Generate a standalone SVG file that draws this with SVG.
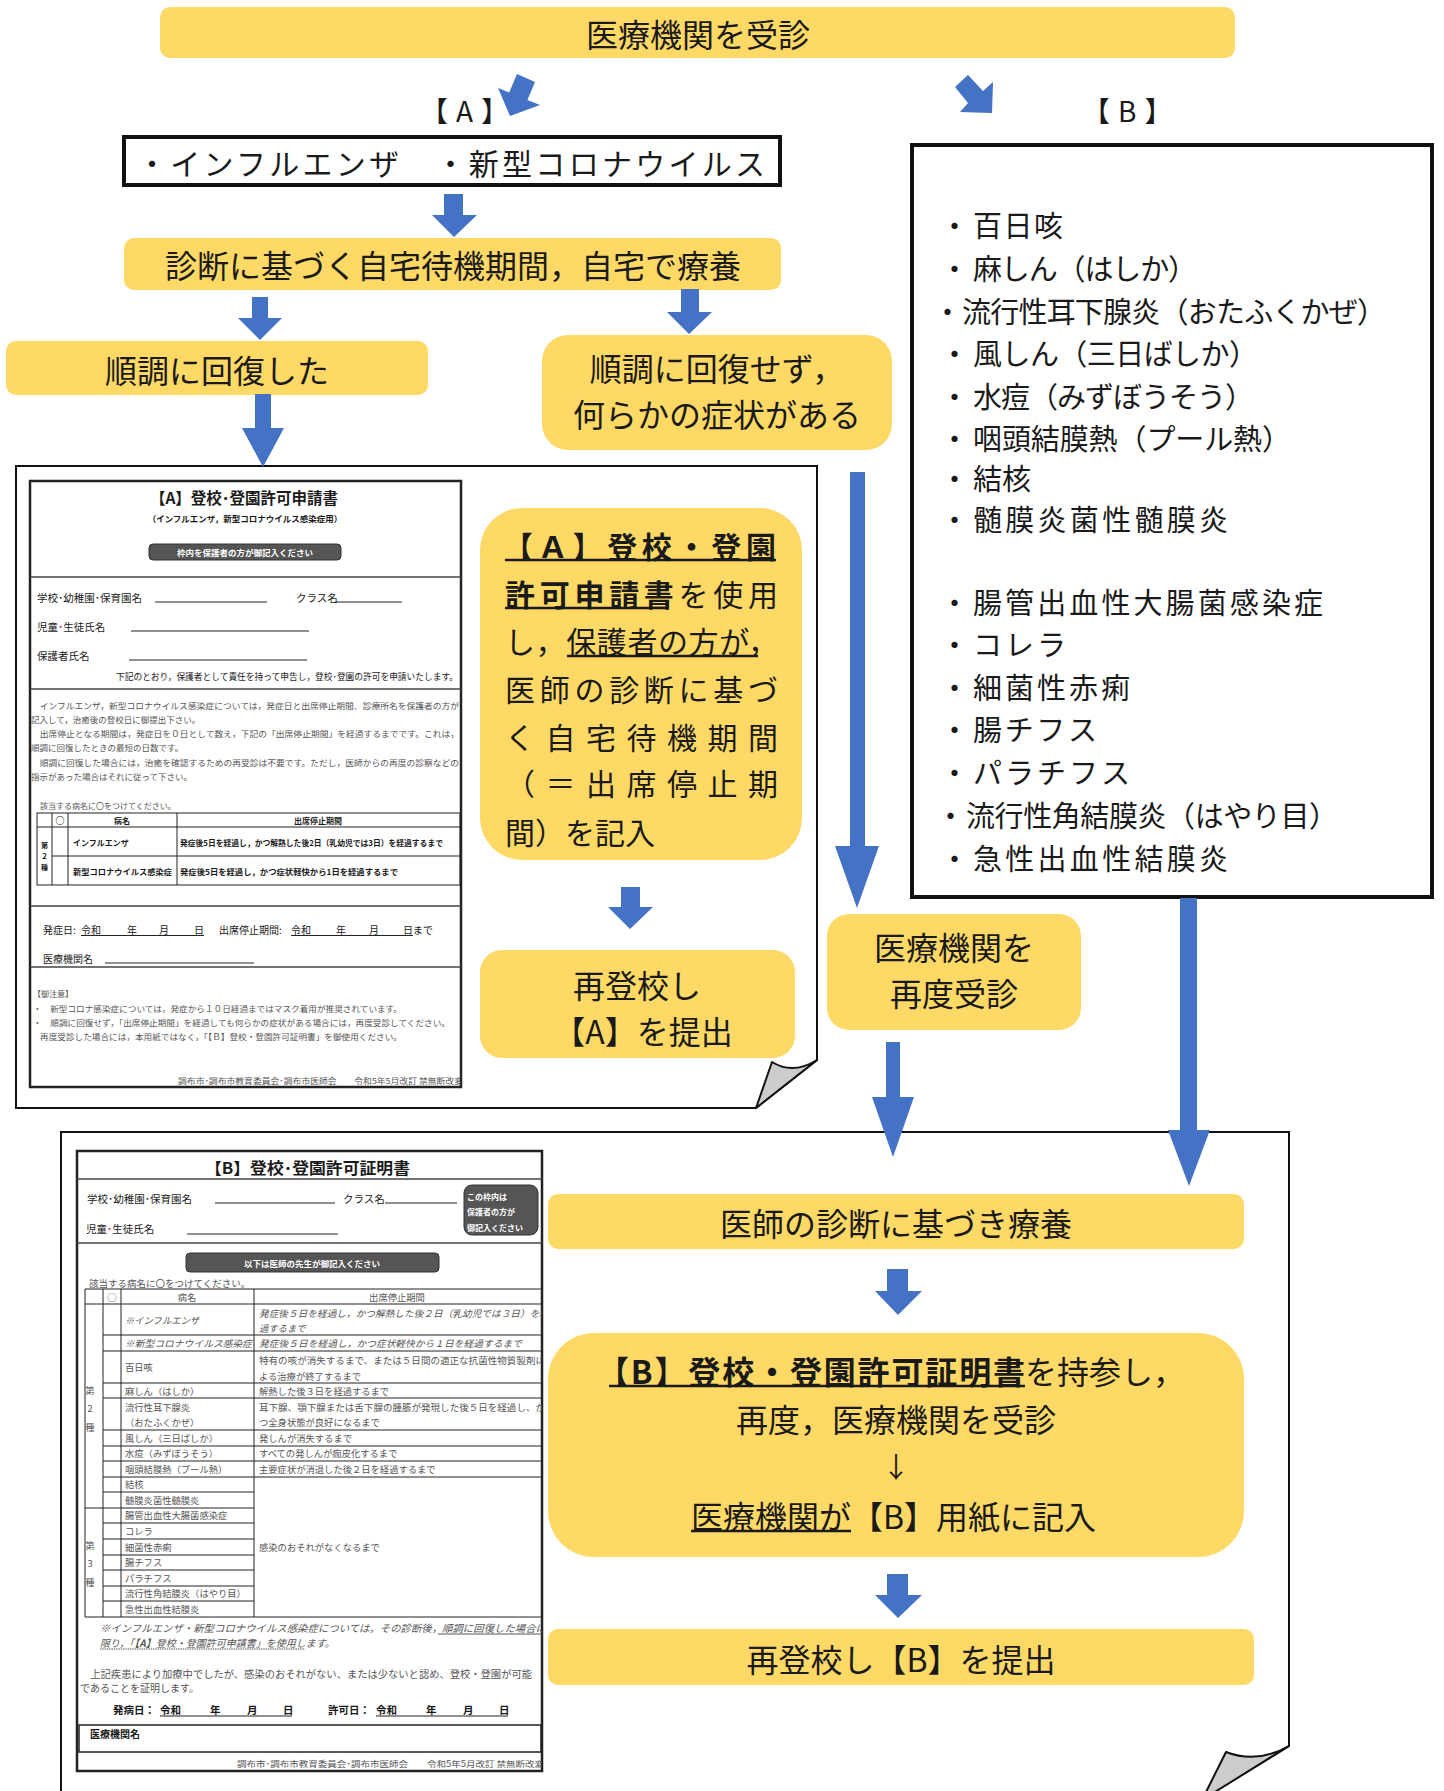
<svg xmlns="http://www.w3.org/2000/svg" width="1444" height="1791" viewBox="0 0 1444 1791">
<style>
text{font-family:"Noto Sans CJK JP","Noto Sans CJK SC",sans-serif;fill:#1a1a1a;dominant-baseline:central}
.y{fill:#FED966}
.ar{fill:#4472C4}
.m{text-anchor:middle}
.f32{font-size:32px}
.f30{font-size:30px}
.f29{font-size:29px}
.b{font-weight:bold}
.ul{stroke:#1a1a1a;stroke-width:2.5}
.fl{stroke:#222;stroke-width:1}
.g{fill:#555}
.tb{stroke:#222;stroke-width:1;fill:none}
.pill{fill:#555;stroke:#333;stroke-width:1}
.w{fill:#fff;font-weight:bold}
</style>
<defs>
<clipPath id="clipB"><rect x="77" y="1151" width="465" height="620"/></clipPath>
<clipPath id="clipA"><rect x="30" y="481" width="431" height="606"/></clipPath>
</defs>

<!-- pages -->
<g id="pageA">
<path d="M16,466 H817 V1060 L756,1108 H16 Z" fill="#fff" stroke="#111" stroke-width="2"/>
<path d="M817,1060 Q793,1075 772,1062 L756,1108 Z" fill="#ccc" stroke="#111" stroke-width="2" stroke-linejoin="round"/>
</g>
<g id="pageB">
<path d="M61,1800 V1132 H1289 V1746 L1200,1800" fill="#fff" stroke="#111" stroke-width="2"/>
<path d="M1289,1746 Q1257,1764 1226,1752 L1202,1800 Z" fill="#ccc" stroke="#111" stroke-width="2" stroke-linejoin="round"/>
</g>

<!-- form A -->
<g id="formA">
<rect x="30" y="481" width="431" height="606" fill="#fff" stroke="#222" stroke-width="2.5"/>
<g clip-path="url(#clipA)">
<text x="244" y="497" class="m b" style="font-size:15.5px">【A】登校･登園許可申請書</text>
<text x="245" y="518" class="m b" style="font-size:8.5px">（インフルエンザ，新型コロナウイルス感染症用）</text>
<rect x="149" y="544" width="192" height="16" rx="4" class="pill"/>
<text x="245" y="552" class="m w" style="font-size:8.5px">枠内を保護者の方が御記入ください</text>
<line x1="30" y1="577" x2="461" y2="577" stroke="#444" stroke-width="1.5"/>
<text x="37" y="597" style="font-size:10.5px">学校･幼稚園･保育園名</text>
<line x1="155" y1="602" x2="267" y2="602" class="fl"/>
<text x="296" y="597" style="font-size:10.5px">クラス名</text>
<line x1="335" y1="602" x2="402" y2="602" class="fl"/>
<text x="37" y="626" style="font-size:10.5px">児童<tspan fill="#d00">･</tspan>生徒氏名</text>
<line x1="131" y1="631" x2="309" y2="631" class="fl"/>
<text x="37" y="655" style="font-size:10.5px">保護者氏名</text>
<line x1="129" y1="660" x2="307" y2="660" class="fl"/>
<text x="116" y="676" style="font-size:9px" textLength="342" lengthAdjust="spacingAndGlyphs">下記のとおり，保護者として責任を持って申告し，登校･登園の許可を申請いたします。</text>
<line x1="30" y1="689" x2="461" y2="689" stroke="#444" stroke-width="1.5"/>
<text x="31" y="705" class="g" style="font-size:8.5px" textLength="428" lengthAdjust="spacingAndGlyphs">　インフルエンザ，新型コロナウイルス感染症については，発症日と出席停止期間、診療所名を保護者の方が</text>
<text x="31" y="719" class="g" style="font-size:8.5px">記入して，治癒後の登校日に御提出下さい。</text>
<text x="31" y="733" class="g" style="font-size:8.5px" textLength="428" lengthAdjust="spacingAndGlyphs">　出席停止となる期間は，発症日を０日として数え，下記の「出席停止期間」を経過するまでです。これは，</text>
<text x="31" y="747" class="g" style="font-size:8.5px">順調に回復したときの最短の日数です。</text>
<text x="31" y="762" class="g" style="font-size:8.5px" textLength="428" lengthAdjust="spacingAndGlyphs">　順調に回復した場合には，治癒を確認するための再受診は不要です。ただし，医師からの再度の診察などの</text>
<text x="31" y="776" class="g" style="font-size:8.5px">指示があった場合はそれに従って下さい。</text>
<text x="40" y="805" class="g" style="font-size:8px">該当する病名に〇をつけてください。</text>
<rect x="37" y="813" width="423" height="72" class="tb" stroke-width="1.5"/>
<line x1="37" y1="827" x2="460" y2="827" class="tb"/>
<line x1="52" y1="856" x2="460" y2="856" class="tb"/>
<line x1="52" y1="813" x2="52" y2="885" class="tb"/>
<line x1="68" y1="813" x2="68" y2="885" class="tb"/>
<line x1="177" y1="813" x2="177" y2="885" class="tb"/>
<text x="60" y="820" class="m b" style="font-size:9px">○</text>
<text x="122" y="820" class="m b" style="font-size:8px">病名</text>
<text x="318" y="820" class="m b" style="font-size:8px">出席停止期間</text>
<text x="44.5" y="845" class="m b" style="font-size:7px">第</text>
<text x="44.5" y="856" class="m b" style="font-size:7px">２</text>
<text x="44.5" y="867" class="m b" style="font-size:7px">種</text>
<text x="73" y="842" class="b" style="font-size:8px">インフルエンザ</text>
<text x="180" y="842" class="b" style="font-size:8px" textLength="263" lengthAdjust="spacingAndGlyphs">発症後5日を経過し，かつ解熱した後2日（乳幼児では3日）を経過するまで</text>
<text x="73" y="871" class="b" style="font-size:8px" textLength="99" lengthAdjust="spacingAndGlyphs">新型コロナウイルス感染症</text>
<text x="180" y="871" class="b" style="font-size:8px" textLength="218" lengthAdjust="spacingAndGlyphs">発症後5日を経過し，かつ症状軽快から1日を経過するまで</text>
<line x1="30" y1="906" x2="461" y2="906" stroke="#444" stroke-width="1.5"/>
<line x1="30" y1="967" x2="461" y2="967" stroke="#444" stroke-width="1.5"/>
<text x="43" y="929" style="font-size:10px">発症日:</text>
<text x="81" y="929" style="font-size:10px">令和</text>
<text x="127" y="929" style="font-size:10px">年</text>
<text x="159" y="929" style="font-size:10px">月</text>
<text x="194" y="929" style="font-size:10px">日</text>
<text x="219" y="929" style="font-size:10px">出席停止期間:</text>
<text x="291" y="929" style="font-size:10px">令和</text>
<text x="336" y="929" style="font-size:10px">年</text>
<text x="369" y="929" style="font-size:10px">月</text>
<text x="403" y="929" style="font-size:10px">日まで</text>
<line x1="81" y1="935.5" x2="204" y2="935.5" class="fl"/>
<line x1="291" y1="935.5" x2="413" y2="935.5" class="fl"/>
<text x="43" y="958" style="font-size:10px">医療機関名</text>
<line x1="105" y1="963" x2="254" y2="963" class="fl"/>
<text x="33" y="993" class="g" style="font-size:8px">【御注意】</text>
<text x="33" y="1008" class="g" style="font-size:8.4px" textLength="369" lengthAdjust="spacingAndGlyphs">・　新型コロナ感染症については，発症から１０日経過まではマスク着用が推奨されています。</text>
<text x="33" y="1022" class="g" style="font-size:8.4px" textLength="417" lengthAdjust="spacingAndGlyphs">・　順調に回復せず，「出席停止期間」を経過しても何らかの症状がある場合には，再度受診してください。</text>
<text x="40" y="1036" class="g" style="font-size:8.4px" textLength="362" lengthAdjust="spacingAndGlyphs">再度受診した場合には，本用紙ではなく，「【Ｂ】登校・登園許可証明書」を御使用ください。</text>
<text x="178" y="1080" class="g" style="font-size:8px" textLength="285" lengthAdjust="spacingAndGlyphs">調布市･調布市教育委員会･調布市医師会　　令和5年5月改訂 禁無断改変</text>
</g>
</g>

<!-- form B -->
<g id="formB">
<rect x="77" y="1151" width="465" height="620" fill="#fff" stroke="#222" stroke-width="2.5"/>
<g clip-path="url(#clipB)">
<text x="205" y="1167" class="b" style="font-size:16px" textLength="205" lengthAdjust="spacingAndGlyphs">【B】登校･登園許可証明書</text>
<line x1="77" y1="1179" x2="542" y2="1179" stroke="#444" stroke-width="1.5"/>
<text x="87" y="1198" style="font-size:10.5px">学校･幼稚園･保育園名</text>
<line x1="215" y1="1203" x2="335" y2="1203" class="fl"/>
<text x="343" y="1198" style="font-size:10.5px">クラス名</text>
<line x1="385" y1="1203" x2="457" y2="1203" class="fl"/>
<rect x="464" y="1185" width="74" height="50" rx="8" class="pill"/>
<text x="467" y="1196" class="w" style="font-size:8px">この枠内は</text>
<text x="467" y="1211" class="w" style="font-size:8px">保護者の方が</text>
<text x="467" y="1227" class="w" style="font-size:8px">御記入ください</text>
<text x="86" y="1228" style="font-size:10.5px">児童<tspan fill="#d00">･</tspan>生徒氏名</text>
<line x1="187" y1="1234" x2="338" y2="1234" class="fl"/>
<line x1="77" y1="1243" x2="542" y2="1243" stroke="#444" stroke-width="1.5"/>
<rect x="186" y="1253" width="253" height="19" rx="4" class="pill"/>
<text x="312" y="1263" class="m w" style="font-size:8.5px">以下は医師の先生が御記入ください</text>
<text x="89" y="1283" class="g" style="font-size:9.5px">該当する病名に〇をつけてください。</text>
<g class="tb">
<line x1="85" y1="1289" x2="542" y2="1289"/>
<line x1="85" y1="1304" x2="542" y2="1304"/>
<line x1="103" y1="1335" x2="542" y2="1335"/>
<line x1="103" y1="1351" x2="542" y2="1351"/>
<line x1="103" y1="1383" x2="542" y2="1383"/>
<line x1="103" y1="1398" x2="542" y2="1398"/>
<line x1="103" y1="1430" x2="542" y2="1430"/>
<line x1="103" y1="1446" x2="542" y2="1446"/>
<line x1="103" y1="1461" x2="542" y2="1461"/>
<line x1="103" y1="1477" x2="542" y2="1477"/>
<line x1="103" y1="1492" x2="254" y2="1492"/>
<line x1="85" y1="1508" x2="254" y2="1508"/>
<line x1="103" y1="1523" x2="254" y2="1523"/>
<line x1="103" y1="1539" x2="254" y2="1539"/>
<line x1="103" y1="1555" x2="254" y2="1555"/>
<line x1="103" y1="1570" x2="254" y2="1570"/>
<line x1="103" y1="1586" x2="254" y2="1586"/>
<line x1="103" y1="1601" x2="254" y2="1601"/>
<line x1="85" y1="1617" x2="542" y2="1617"/>
<line x1="85" y1="1289" x2="85" y2="1617"/>
<line x1="103" y1="1289" x2="103" y2="1617"/>
<line x1="121" y1="1289" x2="121" y2="1617"/>
<line x1="254" y1="1289" x2="254" y2="1617"/>
</g>
<g style="font-size:9.3px">
<text x="112" y="1297" class="m g">○</text>
<text x="187" y="1297" class="m g">病名</text>
<text x="397" y="1297" class="m g">出席停止期間</text>
<text x="90" y="1390" class="m g">第</text>
<text x="90" y="1408" class="m g">2</text>
<text x="90" y="1427" class="m g">種</text>
<text x="90" y="1545" class="m g">第</text>
<text x="90" y="1563" class="m g">3</text>
<text x="90" y="1582" class="m g">種</text>
<text x="125" y="1320" class="g" font-style="italic">※インフルエンザ</text>
<text x="259" y="1313" class="g" font-style="italic" textLength="290" lengthAdjust="spacingAndGlyphs">発症後５日を経過し，かつ解熱した後２日（乳幼児では３日）を経</text>
<text x="259" y="1328" class="g" font-style="italic">過するまで</text>
<text x="125" y="1343" class="g" font-style="italic" textLength="127" lengthAdjust="spacingAndGlyphs">※新型コロナウイルス感染症</text>
<text x="259" y="1343" class="g" font-style="italic" textLength="263" lengthAdjust="spacingAndGlyphs">発症後５日を経過し，かつ症状軽快から１日を経過するまで</text>
<text x="125" y="1367" class="g">百日咳</text>
<text x="259" y="1360" class="g" textLength="286" lengthAdjust="spacingAndGlyphs">特有の咳が消失するまで、または５日間の適正な抗菌性物質製剤に</text>
<text x="259" y="1376" class="g">よる治療が終了するまで</text>
<text x="125" y="1391" class="g">麻しん（はしか）</text>
<text x="259" y="1391" class="g">解熱した後３日を経過するまで</text>
<text x="125" y="1407" class="g">流行性耳下腺炎</text>
<text x="125" y="1422" class="g">（おたふくかぜ）</text>
<text x="259" y="1407" class="g" textLength="286" lengthAdjust="spacingAndGlyphs">耳下腺、顎下腺または舌下腺の腫脹が発現した後５日を経過し、か</text>
<text x="259" y="1422" class="g">つ全身状態が良好になるまで</text>
<text x="125" y="1438" class="g">風しん（三日ばしか）</text>
<text x="259" y="1438" class="g">発しんが消失するまで</text>
<text x="125" y="1453" class="g">水痘（みずぼうそう）</text>
<text x="259" y="1453" class="g">すべての発しんが痂皮化するまで</text>
<text x="125" y="1469" class="g">咽頭結膜熱（プール熱）</text>
<text x="259" y="1469" class="g">主要症状が消退した後２日を経過するまで</text>
<text x="125" y="1484" class="g">結核</text>
<text x="125" y="1500" class="g">髄膜炎菌性髄膜炎</text>
<text x="125" y="1515" class="g">腸管出血性大腸菌感染症</text>
<text x="125" y="1531" class="g">コレラ</text>
<text x="125" y="1547" class="g">細菌性赤痢</text>
<text x="125" y="1562" class="g">腸チフス</text>
<text x="125" y="1578" class="g">パラチフス</text>
<text x="125" y="1593" class="g">流行性角結膜炎（はやり目）</text>
<text x="125" y="1609" class="g">急性出血性結膜炎</text>
<text x="259" y="1547" class="g">感染のおそれがなくなるまで</text>
</g>
<text x="100" y="1627" class="g" font-style="italic" style="font-size:10px" textLength="446" lengthAdjust="spacingAndGlyphs">※インフルエンザ・新型コロナウイルス感染症については，その診断後，順調に回復した場合に</text>
<line x1="438" y1="1634" x2="542" y2="1634" stroke="#555" stroke-width="1"/>
<text x="100" y="1642" class="g" font-style="italic" style="font-size:10px">限り，「<tspan font-weight="bold">【A】</tspan>登校・登園許可申請書」を使用します。</text>
<line x1="100" y1="1649" x2="305" y2="1649" stroke="#555" stroke-width="1" stroke-dasharray="1.5,0.8"/>
<text x="80" y="1673" class="g" style="font-size:10px" textLength="452" lengthAdjust="spacingAndGlyphs">　上記疾患により加療中でしたが、感染のおそれがない、または少ないと認め、登校・登園が可能</text>
<text x="80" y="1687" class="g" style="font-size:10px">であることを証明します。</text>
<g class="b" style="font-size:10.5px">
<text x="113" y="1709" class="b">発病日：</text>
<text x="160" y="1709" class="b">令和</text>
<text x="210" y="1709" class="b">年</text>
<text x="247" y="1709" class="b">月</text>
<text x="283" y="1709" class="b">日</text>
<text x="328" y="1709" class="b">許可日：</text>
<text x="376" y="1709" class="b">令和</text>
<text x="426" y="1709" class="b">年</text>
<text x="463" y="1709" class="b">月</text>
<text x="499" y="1709" class="b">日</text>
</g>
<line x1="160" y1="1716" x2="292" y2="1716" class="fl"/>
<line x1="376" y1="1716" x2="508" y2="1716" class="fl"/>
<rect x="79" y="1725" width="462" height="27" fill="none" stroke="#222" stroke-width="1.5"/>
<text x="90" y="1733" class="b" style="font-size:10px">医療機関名</text>
<text x="237" y="1763" class="g" style="font-size:8.5px" textLength="307" lengthAdjust="spacingAndGlyphs">調布市･調布市教育委員会･調布市医師会　　令和5年5月改訂 禁無断改変</text>
</g>
</g>

<!-- nodes -->
<g id="n-top">
<rect x="160" y="7" width="1075" height="51" rx="10" class="y"/>
<text x="698" y="33" class="m f32">医療機関を受診</text>
</g>
<g id="lbl-A"><text x="420" y="110" style="font-size:28px;letter-spacing:8px">【A】</text></g>
<g id="lbl-B"><text x="1082" y="110" style="font-size:28px;letter-spacing:8px">【B】</text></g>
<g id="n-A-list">
<rect x="124" y="137" width="656" height="48" fill="#fff" stroke="#111" stroke-width="4"/>
<text x="137" y="162" class="f30" textLength="628" lengthAdjust="spacing">・インフルエンザ　・新型コロナウイルス</text>
</g>
<g id="n-shindan">
<rect x="124" y="238" width="657" height="52" rx="10" class="y"/>
<text x="453" y="264" class="m f32">診断に基づく自宅待機期間，自宅で療養</text>
</g>
<g id="n-kaifuku">
<rect x="6" y="341" width="422" height="54" rx="10" class="y"/>
<text x="217" y="369" class="m f32">順調に回復した</text>
</g>
<g id="n-kaifukusezu">
<rect x="542" y="335" width="350" height="115" rx="26" class="y"/>
<text x="717" y="367" class="m f32">順調に回復せず，</text>
<text x="717" y="413" class="m f32">何らかの症状がある</text>
</g>
<g id="n-A-use">
<rect x="480" y="508" width="322" height="352" rx="42" class="y"/>
<text x="503" y="545" class="f30 b" textLength="273" lengthAdjust="spacing">【Ａ】登校・登園</text>
<line x1="505" y1="560" x2="776" y2="560" class="ul"/>
<text x="505" y="593" class="f30" textLength="273" lengthAdjust="spacing"><tspan font-weight="bold">許可申請書</tspan>を使用</text>
<line x1="505" y1="608" x2="667" y2="608" class="ul"/>
<text x="505" y="640" class="f30" textLength="273" lengthAdjust="spacing">し，保護者の方が，</text>
<line x1="567" y1="656" x2="758" y2="656" class="ul"/>
<text x="505" y="688" class="f30" textLength="273" lengthAdjust="spacing">医師の診断に基づ</text>
<text x="505" y="736" class="f30" textLength="273" lengthAdjust="spacing">く自宅待機期間</text>
<text x="505" y="782" class="f30" textLength="273" lengthAdjust="spacing">（＝出席停止期</text>
<text x="505" y="831" class="f30">間）を記入</text>
</g>
<g id="n-A-submit">
<rect x="480" y="950" width="315" height="108" rx="22" class="y"/>
<text x="637" y="984" class="m f32">再登校し</text>
<text x="643" y="1030" class="m f32">【A】を提出</text>
</g>
<g id="n-saijushin">
<rect x="827" y="914" width="254" height="116" rx="22" class="y"/>
<text x="954" y="946" class="m f32">医療機関を</text>
<text x="954" y="992" class="m f32">再度受診</text>
</g>
<g id="n-B-list">
<rect x="912" y="145" width="520" height="752" fill="#fff" stroke="#111" stroke-width="4"/>
<g class="f29">
<text x="940" y="224">・</text><text x="973" y="224" textLength="90" lengthAdjust="spacing">百日咳</text>
<text x="940" y="267">・</text><text x="973" y="267" textLength="224" lengthAdjust="spacing">麻しん（はしか）</text>
<text x="933" y="310">・</text><text x="962" y="310" textLength="424" lengthAdjust="spacing">流行性耳下腺炎（おたふくかぜ）</text>
<text x="940" y="352">・</text><text x="973" y="352" textLength="285" lengthAdjust="spacing">風しん（三日ばしか）</text>
<text x="940" y="395">・</text><text x="973" y="395" textLength="281" lengthAdjust="spacing">水痘（みずぼうそう）</text>
<text x="940" y="437">・</text><text x="973" y="437" textLength="318" lengthAdjust="spacing">咽頭結膜熱（プール熱）</text>
<text x="940" y="477">・</text><text x="973" y="477">結核</text>
<text x="940" y="518">・</text><text x="973" y="518" textLength="255" lengthAdjust="spacing">髄膜炎菌性髄膜炎</text>
<text x="940" y="601">・</text><text x="973" y="601" textLength="350" lengthAdjust="spacing">腸管出血性大腸菌感染症</text>
<text x="940" y="643">・</text><text x="973" y="643" textLength="93" lengthAdjust="spacing">コレラ</text>
<text x="940" y="686">・</text><text x="973" y="686" textLength="157" lengthAdjust="spacing">細菌性赤痢</text>
<text x="940" y="728">・</text><text x="973" y="728" textLength="124" lengthAdjust="spacing">腸チフス</text>
<text x="940" y="771">・</text><text x="973" y="771" textLength="157" lengthAdjust="spacing">パラチフス</text>
<text x="936" y="814">・</text><text x="966" y="814" textLength="372" lengthAdjust="spacing">流行性角結膜炎（はやり目）</text>
<text x="940" y="857">・</text><text x="973" y="857" textLength="255" lengthAdjust="spacing">急性出血性結膜炎</text>
</g>
</g>
<g id="n-ryoyo">
<rect x="548" y="1194" width="696" height="55" rx="10" class="y"/>
<text x="896" y="1222" class="m f32">医師の診断に基づき療養</text>
</g>
<g id="n-B-cert">
<rect x="548" y="1333" width="696" height="224" rx="46" class="y"/>
<text x="597" y="1370" class="f32 b" textLength="428" lengthAdjust="spacing">【B】登校・登園許可証明書</text>
<line x1="609" y1="1386" x2="1025" y2="1386" class="ul"/>
<text x="1025" y="1370" class="f32">を持参し，</text>
<text x="896" y="1418" class="m f32">再度，医療機関を受診</text>
<text x="896" y="1466" class="m" style="font-size:28px">↓</text>
<text x="691" y="1515" class="f32">医療機関が【B】用紙に記入</text>
<line x1="691" y1="1531" x2="851" y2="1531" class="ul"/>
</g>
<g id="n-B-submit">
<rect x="548" y="1629" width="706" height="56" rx="10" class="y"/>
<text x="901" y="1658" class="m f32">再登校し【B】を提出</text>
</g>

<!-- connectors -->
<g id="connectors" class="ar">
<polygon points="517,74 535,82 527.4,99.9 540,105 510,116 498,88 509.2,92.5"/>
<polygon points="968,75 983,91 993,82 992,113 960,112 968,103 955,87"/>
<polygon points="444,194 463,194 463,215 477,215 454,237 432,215 444,215"/>
<polygon points="252,297 268,297 268,318 282,318 260,340 238,318 252,318"/>
<polygon points="681,289 699,289 699,312 712,312 689,334 667,312 681,312"/>
<polygon points="255,394 271,394 271,428 284,428 263,467 242,428 255,428"/>
<polygon points="850,472 865,472 865,846 879,846 857,908 835,846 850,846"/>
<polygon points="621,887 640,887 640,907 653,907 630,929 608,907 621,907"/>
<polygon points="886,1042 900,1042 900,1097 914,1097 893,1157 872,1097 886,1097"/>
<polygon points="1180,898 1197,898 1197,1130 1210,1130 1189,1186 1168,1130 1180,1130"/>
<polygon points="887,1269 908,1269 908,1291 922,1291 898,1315 875,1291 887,1291"/>
<polygon points="887,1574 908,1574 908,1595 922,1595 898,1618 875,1595 887,1595"/>
</g>
</svg>
